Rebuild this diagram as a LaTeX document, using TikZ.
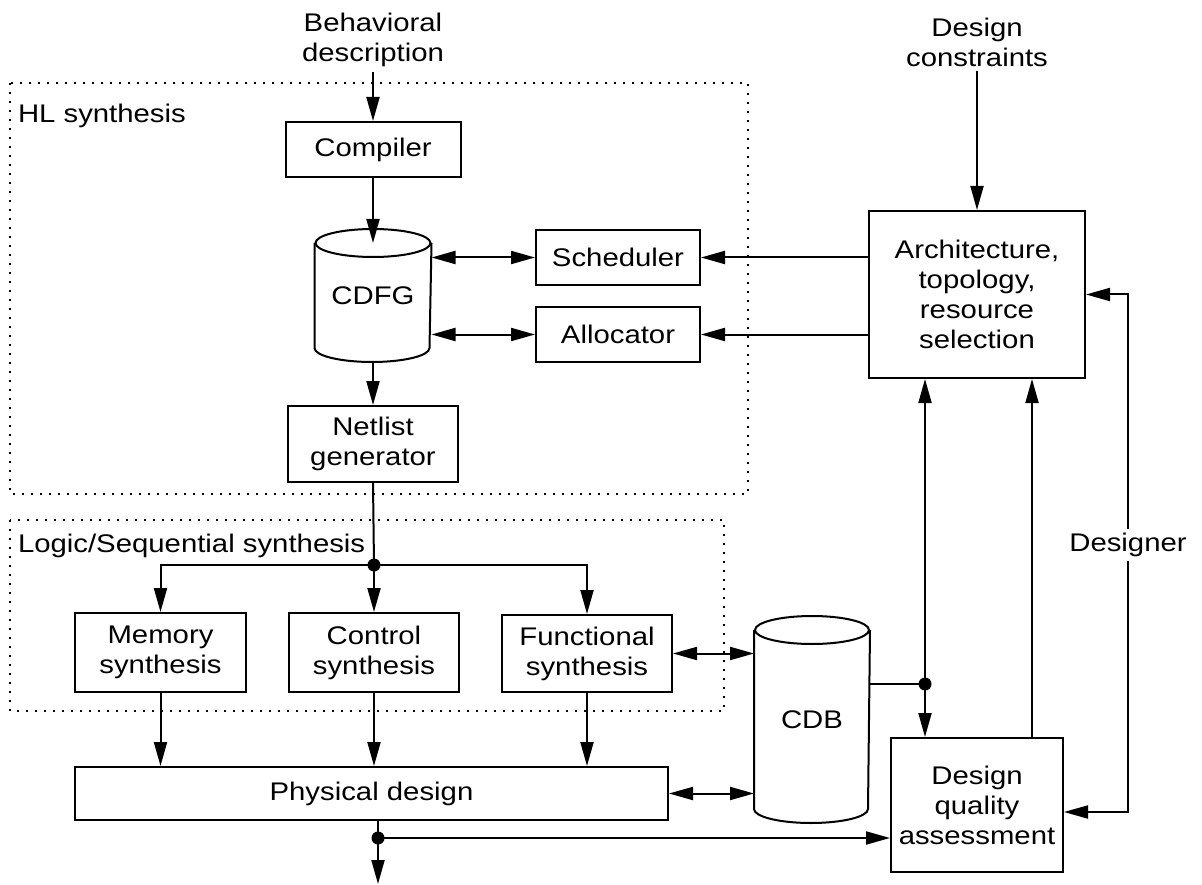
\documentclass[tikz,border=0pt]{standalone}
\usepackage{fontspec}
\setmainfont[FakeStretch=1.15]{Liberation Sans}
\usetikzlibrary{arrows.meta}

\begin{document}
\begin{tikzpicture}[x=1pt,y=-1pt,
  font=\fontsize{25.5}{30}\selectfont,
  line width=2pt,
  >={Triangle[length=24pt,width=13pt]},
  box/.style={draw,rectangle,inner sep=0pt,align=center},
  plain/.style={inner sep=0pt,align=center},
  drum/.style={inner sep=0pt,align=center},
  region/.style={line width=2pt,dash pattern=on 2pt off 7pt},
  dot/.style={circle,fill,inner sep=0pt,minimum size=13pt}]

\useasboundingbox (0,0) rectangle (1202,885);

% synthesis regions
\draw[region] (10,83) rectangle (748,494);
\draw[region] (10,520) rectangle (724,711);
\node[plain,anchor=base west] (hl) at (17,123) {HL synthesis};
\node[plain,anchor=base west] (ls) at (17,552) {Logic/Sequential synthesis};

% inputs
\node[plain] (beh) at (373,40) {Behavioral\\description};
\node[plain] (cons) at (977,42) {Design\\constraints};

% HL synthesis blocks
\node[box,minimum width=175pt,minimum height=55pt] (comp) at (373,149.5) {Compiler};
\node[drum,minimum width=115pt,minimum height=103pt] (cdfg) at (373,295.5) {CDFG};
\node[box,minimum width=164pt,minimum height=55pt] (sched) at (618,257.5) {Scheduler};
\node[box,minimum width=164pt,minimum height=55pt] (alloc) at (618,334.5) {Allocator};
\node[box,minimum width=170pt,minimum height=76pt] (net) at (373,444) {Netlist\\generator};

% architecture selection and quality assessment
\node[box,minimum width=216pt,minimum height=167pt] (arch) at (977,294.5) {Architecture,\\topology,\\resource\\selection};
\node[box,minimum width=172pt,minimum height=134pt] (dqa) at (977,805) {Design\\quality\\assessment};
\node[plain,fill=white,inner sep=3pt] (des) at (1128,545) {Designer};

% logic / sequential synthesis blocks
\node[box,minimum width=171pt,minimum height=79pt] (mem) at (160.5,652.5) {Memory\\synthesis};
\node[box,minimum width=170pt,minimum height=79pt] (ctrl) at (374,652.5) {Control\\synthesis};
\node[box,minimum width=170pt,minimum height=77pt] (func) at (587,653.5) {Functional\\synthesis};
\node[box,minimum width=593pt,minimum height=53pt] (phys) at (371.5,793.5) {Physical design};
\node[drum,minimum width=114pt,minimum height=177pt] (cdb) at (812,719.5) {CDB};

% cylinder outlines
\foreach \c/\r in {cdfg/57.5,cdb/57} {
  \draw (\c.north west) -- (\c.south west)
        arc[start angle=180,end angle=0,x radius=\r,y radius=14]
        -- (\c.north east);
  \draw (\c.north) ellipse[x radius=\r,y radius=14];
}

% junctions
\coordinate (j1) at (374,565);
\coordinate (j2) at (925,684);
\coordinate (j3) at (378,838);
\coordinate (out) at (378,884);

% HL flow
\draw[->] (beh.south) ++(0,4) -- (comp.north);
\draw[->] (comp.south) -- (cdfg.north);
\draw[->] ([yshift=-14pt]cdfg.south) -- (net.north);
\draw[<->] (cdfg.east |- sched.west) -- (sched.west);
\draw[<->] (cdfg.east |- alloc.west) -- (alloc.west);
\draw[->] (arch.west |- sched.east) -- (sched.east);
\draw[->] (arch.west |- alloc.east) -- (alloc.east);
\draw[->] (cons.south) ++(0,4) -- (arch.north);

% netlist distribution
\draw (net.south) -- (j1);
\draw[->] (j1) -| (mem.north);
\draw[->] (j1) -- (ctrl.north);
\draw[->] (j1) -| (func.north);
\node[dot] at (j1) {};

% to physical design
\draw[->] (mem.south) -- (mem.south |- phys.north);
\draw[->] (ctrl.south) -- (ctrl.south |- phys.north);
\draw[->] (func.south) -- (func.south |- phys.north);

% database links
\draw[<->] (func.east) -- (func.east -| cdb.west);
\draw[<->] (phys.east) -- (phys.east -| cdb.west);
\draw (cdb.east |- j2) -- (j2);
\draw[->] (j2) -- (j2 |- arch.south);
\draw[->] (j2) -- (j2 |- dqa.north);
\node[dot] at (j2) {};

% quality feedback
\draw[->] ([xshift=55pt]dqa.north) -- ([xshift=55pt]arch.south);
\draw[->] (des.north) |- (arch.east);
\draw[->] (des.south) |- ([yshift=-7pt]dqa.east);

% physical design output
\draw[->] (j3 |- phys.south) -- (out);
\draw[->] (j3) -- (j3 -| dqa.west);
\node[dot] at (j3) {};

\end{tikzpicture}
\end{document}
